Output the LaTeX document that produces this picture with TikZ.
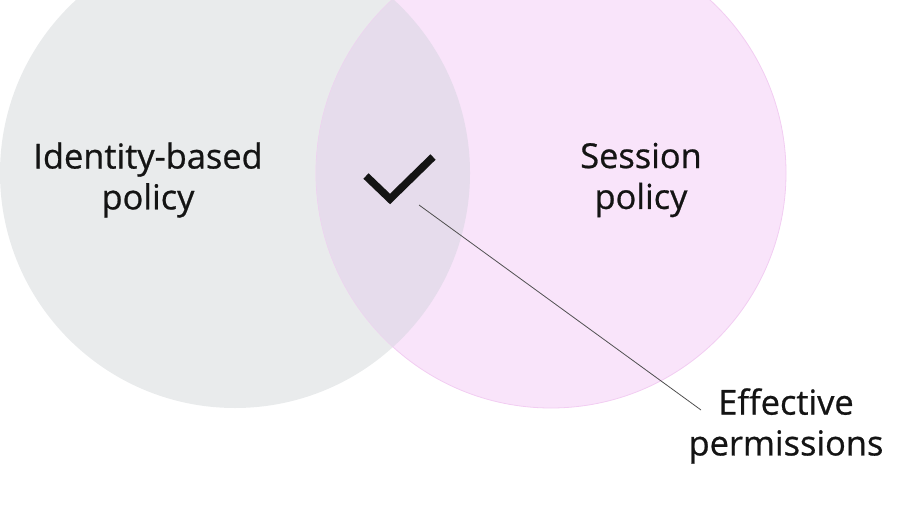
\documentclass[tikz,border=0pt]{standalone}
\usepackage{fontspec}
\setmainfont{Open Sans}[FakeBold=0.7]
\definecolor{idgray}{RGB}{233, 235, 236}
\definecolor{sespink}{RGB}{249, 228, 250}
\definecolor{sesedge}{RGB}{242, 205, 242}
\definecolor{overlap}{RGB}{230, 220, 236}
\definecolor{leader}{RGB}{80, 80, 80}
\definecolor{ink}{RGB}{20, 20, 20}

\begin{document}
\begin{tikzpicture}[x=1bp, y=-1bp,
    policytext/.style={align=center, text=ink, font=\fontsize{34.5}{41}\selectfont}]
            \useasboundingbox (0,0) rectangle (899,529);
            \clip (0,0) rectangle (899,529);
            % the two policies
            \fill[idgray] (235,173) circle (235bp);
            \filldraw[sesedge, fill=sespink, thick] (551,173) circle (235bp);
            \begin{scope}
                \clip (235,173) circle (235bp);
                \fill[overlap] (551,173) circle (235bp);
            \end{scope}
            \node[policytext] (idpolicy)  at (148,180) {Identity-based\\policy};
            \node[policytext] (sespolicy) at (641,180) {Session\\policy};
            % tick in the overlap
            \draw[ink, line width=7.5bp] (366,176) -- (390,199) -- (433,157);
            \coordinate (tickend) at (419,205);
            \coordinate (leadend) at (701,410);
            \node[policytext] (effective) at (786,426) {Effective\\permissions};
            \draw[leader, line width=0.8bp] (tickend) -- (leadend);
        \end{tikzpicture}
\end{document}
